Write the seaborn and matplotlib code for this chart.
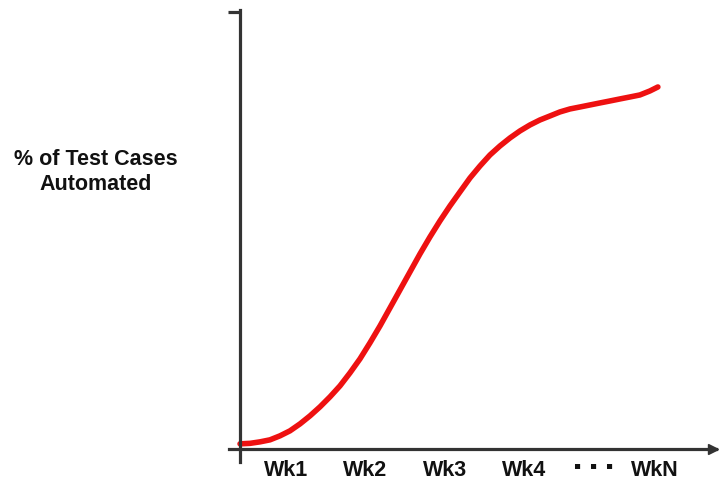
import matplotlib
matplotlib.use("Agg")
import matplotlib.pyplot as plt
import seaborn as sns
import pandas as pd

# curve (x in week units, y in % automated)
weeks = [0.416, 0.542, 0.668, 0.794, 0.920, 1.046, 1.173, 1.299, 1.425, 1.551,
         1.677, 1.803, 1.929, 2.055, 2.182, 2.308, 2.434, 2.560, 2.686, 2.812,
         2.938, 3.064, 3.190, 3.317, 3.443, 3.569, 3.695, 3.821, 3.947, 4.073,
         4.199, 4.325, 4.451, 4.578, 4.704, 4.830, 4.956, 5.082, 5.208, 5.334,
         5.460, 5.586, 5.687]
pct_automated = [1.14, 1.25, 1.59, 2.05, 2.96, 4.10, 5.69, 7.52, 9.57, 11.85,
                 14.35, 17.31, 20.50, 24.15, 28.02, 32.12, 36.22, 40.32, 44.42, 48.29,
                 51.94, 55.35, 58.54, 61.73, 64.46, 66.97, 69.02, 70.84, 72.44, 73.80,
                 74.94, 75.85, 76.77, 77.45, 77.90, 78.36, 78.82, 79.27, 79.73, 80.18,
                 80.64, 81.55, 82.46]

tick_pos = [1, 2, 3, 4, 4.66, 4.86, 5.06, 5.65]
tick_labels = ["Wk1", "Wk2", "Wk3", "Wk4", "\u25aa", "\u25aa", "\u25aa", "WkN"]

df = pd.DataFrame({"week": weeks, "pct": pct_automated})

sns.set_style("white")
plt.rcParams["font.family"] = ["Liberation Sans", "DejaVu Sans"]

fig = plt.figure(figsize=(7.22, 4.87), dpi=100)
ax = fig.add_axes([229 / 722, 25 / 487, 487 / 722, 452 / 487])

axis_col = "#333333"
sns.lineplot(data=df, x="week", y="pct", ax=ax, color="#ee1111", linewidth=4.0,
             solid_capstyle="round", solid_joinstyle="round")

ax.set_xlim(0.277, 6.42)
ax.set_ylim(-3.0, 100)

for s in ["top", "right"]:
    ax.spines[s].set_visible(False)
ax.spines["left"].set_position(("data", 0.42))
ax.spines["bottom"].set_position(("data", 0))
for s in ["left", "bottom"]:
    ax.spines[s].set_color(axis_col)
    ax.spines[s].set_linewidth(2.3)

# arrow head at end of x axis
ax.plot([6.38], [0], marker=">", color=axis_col, markersize=7, clip_on=False)

ax.set_yticks([99.6])
ax.set_yticklabels([""])
ax.tick_params(axis="y", left=True, direction="out", length=9, width=2.3,
               color=axis_col)

ax.set_xticks(tick_pos)
ax.set_xticklabels(tick_labels, fontsize=15.5, fontweight="bold", color="#111111")
ax.tick_params(axis="x", length=0, pad=8)
for lbl in ax.get_xticklabels():
    if lbl.get_text() == "\u25aa":
        lbl.set_fontsize(7.5)
        lbl.set_family("DejaVu Sans")

ax.set_xlabel("")
ax.set_ylabel("")

fig.text(96 / 722, 1 - 172 / 487, "% of Test Cases\nAutomated", ha="center",
         va="center", multialignment="center", fontsize=15.5, fontweight="bold",
         color="#111111", linespacing=1.25)

fig.savefig("out.png", dpi=100)
